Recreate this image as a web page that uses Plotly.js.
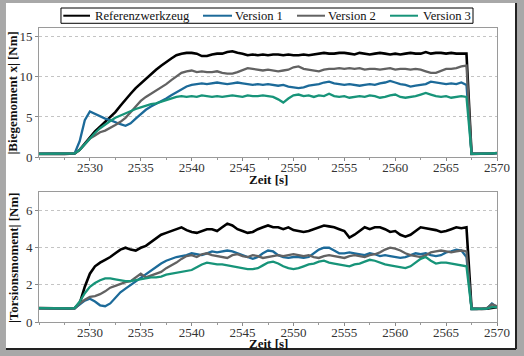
<!DOCTYPE html>
<html>
<head>
<meta charset="utf-8">
<script src="https://cdn.plot.ly/plotly-3.0.1.min.js"></script>
<style>
html,body{margin:0;padding:0;background:#a8a8a8;}
#chart{width:524px;height:356px;}
</style>
</head>
<body>
<div id="chart"></div>
<script>
// Time axis [s]
const time = [2525,2525.5,2526,2526.5,2527,2527.5,2528,2528.5,2529,2529.5,
  2530,2530.5,2531,2531.5,2532,2532.5,2533,2533.5,2534,2534.5,
  2535,2535.5,2536,2536.5,2537,2537.5,2538,2538.5,2539,2539.5,
  2540,2540.5,2541,2541.5,2542,2542.5,2543,2543.5,2544,2544.5,
  2545,2545.5,2546,2546.5,2547,2547.5,2548,2548.5,2549,2549.5,
  2550,2550.5,2551,2551.5,2552,2552.5,2553,2553.5,2554,2554.5,
  2555,2555.5,2556,2556.5,2557,2557.5,2558,2558.5,2559,2559.5,
  2560,2560.5,2561,2561.5,2562,2562.5,2563,2563.5,2564,2564.5,
  2565,2565.5,2566,2566.5,2567,2567.5,2568,2568.5,2569,2569.5,
  2570];

const seriesNames = ['Referenzwerkzeug','Version 1','Version 2','Version 3'];
const xTitle = 'Zeit [s]';
const bendTitle = '|Biegemoment x| [Nm]';
const torTitle = '|Torsionsmoment| [Nm]';

// |Biegemoment x| [Nm]
const bendRef = [0.4,0.42,0.4,0.41,0.4,0.4,0.42,0.45,0.9,1.7,
  2.5,3.2,3.8,4.4,4.9,5.6,6.4,7.2,7.9,8.6,
  9.2,9.7,10.3,10.9,11.4,11.9,12.3,12.7,12.9,13.0,
  13.0,12.9,12.6,12.6,12.8,12.9,12.9,13.1,13.2,13.0,
  12.9,12.7,12.8,12.7,12.8,12.7,12.8,12.8,12.7,12.8,
  12.7,12.7,12.8,12.7,12.8,12.9,13.0,12.9,12.9,13.0,
  13.0,12.9,12.8,13.0,12.9,12.8,12.9,13.0,12.9,12.8,
  12.9,12.8,12.9,13.0,12.9,12.9,13.1,12.9,13.0,13.0,
  12.9,13.0,12.9,12.9,12.9,0.4,0.4,0.42,0.4,0.45,
  0.5];
const bendV1 = [0.4,0.4,0.41,0.4,0.4,0.41,0.4,0.45,2.0,4.6,
  5.7,5.4,5.0,4.8,4.6,4.3,4.1,3.9,4.2,4.8,
  5.4,5.9,6.3,6.6,6.9,7.3,7.7,8.1,8.5,8.8,
  9.0,9.1,9.2,9.1,9.2,9.3,9.2,9.1,9.2,9.3,
  9.2,9.1,9.0,9.1,9.0,9.1,9.0,8.9,9.0,8.8,
  8.7,8.6,8.7,8.9,9.0,9.1,9.3,9.4,9.2,9.1,
  9.0,9.1,9.0,8.9,9.0,9.1,9.0,9.2,9.3,9.5,
  9.3,9.1,9.0,8.8,8.9,9.0,9.1,9.4,9.3,9.2,
  9.1,9.2,9.1,9.3,9.0,0.4,0.4,0.4,0.42,0.45,
  0.5];
const bendV2 = [0.4,0.41,0.4,0.4,0.42,0.4,0.41,0.45,0.9,1.6,
  2.3,2.7,3.1,3.3,3.6,4.0,4.4,4.9,5.6,6.3,
  7.0,7.5,7.9,8.3,8.6,9.1,9.6,10.1,10.5,10.7,
  10.8,10.6,10.7,10.6,10.6,10.7,10.5,10.4,10.4,10.6,
  10.9,11.1,11.0,10.9,10.8,10.9,10.8,10.7,10.8,10.9,
  11.2,11.3,11.0,10.9,10.8,10.7,10.9,11.0,11.0,11.1,
  11.0,11.1,11.0,11.1,10.9,11.0,11.0,10.9,11.0,11.1,
  10.9,11.0,11.0,10.9,11.0,10.9,10.7,10.5,10.5,10.8,
  11.0,11.0,11.1,11.3,11.4,0.4,0.41,0.4,0.42,0.45,
  0.5];
const bendV3 = [0.4,0.4,0.41,0.4,0.4,0.4,0.41,0.45,0.9,1.6,
  2.4,3.0,3.6,4.1,4.5,4.9,5.2,5.5,5.8,6.0,
  6.2,6.4,6.6,6.7,6.9,7.1,7.3,7.5,7.6,7.5,
  7.6,7.5,7.7,7.6,7.5,7.6,7.5,7.6,7.7,7.6,
  7.5,7.7,7.6,7.6,7.7,7.6,7.5,7.2,6.8,7.3,
  7.7,7.8,7.6,7.7,7.5,7.7,7.6,7.9,7.6,7.5,
  7.6,7.4,7.5,7.6,7.5,7.7,7.6,7.4,7.5,7.7,
  7.8,7.5,7.4,7.5,7.6,7.8,8.0,7.8,7.6,7.5,
  7.6,7.4,7.5,7.6,7.5,0.4,0.4,0.41,0.4,0.45,
  0.5];

// |Torsionsmoment| [Nm]
const torRef = [0.75,0.74,0.73,0.72,0.72,0.72,0.73,0.74,1.0,1.9,
  2.6,3.0,3.2,3.35,3.5,3.7,3.9,4.0,3.9,3.85,
  4.0,4.1,4.3,4.5,4.7,4.8,4.9,5.0,5.1,4.95,
  4.85,4.8,4.9,5.0,5.0,4.9,5.1,5.3,5.2,5.0,
  4.9,4.8,4.85,5.0,5.1,5.2,5.1,5.1,5.0,5.1,
  4.95,4.9,4.85,4.9,5.0,5.1,5.2,5.15,5.1,5.0,
  4.9,4.55,4.7,4.9,5.1,5.0,5.1,5.1,5.0,4.85,
  4.9,4.7,4.6,4.7,4.9,5.1,5.05,5.0,4.95,4.85,
  4.9,5.0,5.1,5.05,5.1,0.72,0.7,0.7,0.72,0.75,
  0.8];
const torV1 = [0.75,0.74,0.73,0.72,0.72,0.72,0.73,0.74,0.95,1.15,
  1.25,1.1,0.9,0.85,1.0,1.3,1.6,1.8,2.0,2.2,
  2.4,2.6,2.8,3.0,3.15,3.3,3.4,3.5,3.55,3.6,
  3.7,3.65,3.6,3.7,3.8,3.75,3.8,3.85,3.8,3.7,
  3.6,3.5,3.4,3.5,3.7,3.85,3.8,3.6,3.5,3.45,
  3.5,3.5,3.45,3.5,3.7,3.9,4.0,4.0,3.85,3.7,
  3.7,3.75,3.7,3.65,3.6,3.7,3.65,3.55,3.6,3.55,
  3.5,3.45,3.5,3.6,3.7,3.65,3.7,3.6,3.55,3.6,
  3.75,3.8,3.9,3.85,3.5,0.7,0.7,0.7,0.72,1.0,
  0.8];
const torV2 = [0.75,0.74,0.73,0.72,0.72,0.72,0.73,0.74,1.0,1.2,
  1.35,1.4,1.5,1.65,1.85,1.95,2.05,2.15,2.2,2.4,
  2.6,2.4,2.5,2.6,2.7,2.9,3.05,3.2,3.4,3.55,
  3.6,3.5,3.65,3.7,3.6,3.55,3.5,3.45,3.6,3.65,
  3.55,3.5,3.6,3.55,3.45,3.5,3.55,3.6,3.55,3.6,
  3.65,3.6,3.55,3.6,3.5,3.45,3.55,3.6,3.55,3.5,
  3.45,3.55,3.6,3.55,3.5,3.6,3.65,3.75,3.9,4.0,
  3.95,3.85,3.7,3.6,3.55,3.5,3.6,3.75,3.8,3.85,
  3.8,3.75,3.8,3.85,3.8,0.7,0.7,0.72,0.75,0.95,
  0.85];
const torV3 = [0.75,0.74,0.73,0.72,0.72,0.72,0.73,0.75,1.1,1.55,
  1.9,2.1,2.25,2.35,2.35,2.3,2.25,2.2,2.2,2.25,
  2.3,2.35,2.4,2.4,2.45,2.55,2.6,2.65,2.7,2.75,
  2.8,2.95,3.1,3.2,3.15,3.1,3.1,3.05,3.0,2.95,
  2.9,2.85,2.85,2.9,3.05,3.2,3.25,3.15,3.0,2.9,
  2.85,2.9,3.0,3.1,3.15,3.25,3.3,3.2,3.15,3.1,
  3.05,3.0,3.1,3.15,3.25,3.35,3.3,3.2,3.1,3.05,
  3.0,2.95,2.9,3.0,3.2,3.4,3.5,3.3,3.15,3.2,
  3.2,3.15,3.1,3.05,3.0,0.7,0.7,0.7,0.72,0.8,
  0.8];

const xTickVals = [2530,2535,2540,2545,2550,2555,2560,2565,2570];
const bendTickVals = [0,5,10,15];
const torTickVals = [0,2,4,6];

const colors = ['#000000','#1c6a99','#626262','#179479'];
const widths = [2.6, 2.3, 2.3, 2.3];
const bendData = [bendRef, bendV1, bendV2, bendV3];
const torData = [torRef, torV1, torV2, torV3];

const traces = [];
seriesNames.forEach((name, i) => {
  traces.push({x: time, y: bendData[i], type: 'scatter', mode: 'lines', name: name,
    legendgroup: name, showlegend: false, line: {color: colors[i], width: widths[i]}, xaxis: 'x', yaxis: 'y'});
});
seriesNames.forEach((name, i) => {
  traces.push({x: time, y: torData[i], type: 'scatter', mode: 'lines', name: name,
    legendgroup: name, showlegend: false, line: {color: colors[i], width: widths[i]}, xaxis: 'x2', yaxis: 'y2'});
});

const fontFam = 'Liberation Serif, Times New Roman, serif';
function xAxis(anchor) {
  return {
    anchor: anchor, domain: [0, 1], range: [2525, 2570],
    tickvals: xTickVals, ticks: 'outside', ticklen: 3, tickcolor: '#888',
    ticklabelstandoff: -5,
    showline: true, linecolor: '#9a9a9a', linewidth: 1, mirror: true,
    showgrid: false, zeroline: false,
    minor: {dtick: 2.5, tick0: 2525, ticks: 'outside', ticklen: 2, tickcolor: '#999', showgrid: false},
    tickfont: {family: fontFam, size: 13, color: '#333'}
  };
}
function yAxis(anchor, domain, range, tickvals) {
  return {
    anchor: anchor, domain: domain, range: range, tickvals: tickvals,
    ticks: 'outside', ticklen: 3, tickcolor: '#888',
    showline: true, linecolor: '#9a9a9a', linewidth: 1, mirror: true,
    showgrid: true, gridcolor: '#c4c4c4', griddash: 'dot', gridwidth: 1,
    zeroline: false,
    tickfont: {family: fontFam, size: 13, color: '#333'}
  };
}

// Hand-built legend placement (paper coordinates)
const legendBox = {x0: 0.048, x1: 0.9476, y0: 1.016, y1: 1.068};
const legendLineY = 1.0418;
const legendLineX = [[0.0531, 0.1114], [0.3581, 0.4214], [0.5633, 0.6245], [0.7664, 0.8275]];
const legendTextX = [0.1170, 0.4226, 0.6257, 0.8331];

const shapes = [
  {type: 'rect', xref: 'paper', yref: 'paper', x0: -0.0721, x1: 1.0415, y0: -0.0918, y1: 1.085,
    fillcolor: '#ffffff', line: {width: 0}, layer: 'below'},
  {type: 'line', xref: 'paper', yref: 'paper', x0: 1.0415, x1: 1.0415, y0: -0.0918, y1: 1.085,
    line: {color: '#222', width: 2}, layer: 'below'},
  {type: 'line', xref: 'paper', yref: 'paper', x0: -0.0721, x1: 1.0415, y0: -0.0918, y1: -0.0918,
    line: {color: '#222', width: 2}, layer: 'below'},
  {type: 'rect', xref: 'paper', yref: 'paper', x0: legendBox.x0, x1: legendBox.x1, y0: legendBox.y0, y1: legendBox.y1,
    fillcolor: '#ffffff', line: {color: '#000', width: 1}}
];
const annotations = [];
seriesNames.forEach((name, i) => {
  shapes.push({type: 'line', xref: 'paper', yref: 'paper', x0: legendLineX[i][0], x1: legendLineX[i][1],
    y0: legendLineY, y1: legendLineY, line: {color: colors[i], width: 2}});
  annotations.push({xref: 'paper', yref: 'paper', x: legendTextX[i], y: legendLineY, xanchor: 'left', yanchor: 'middle',
    text: name, showarrow: false, font: {family: fontFam, size: 12.6, color: '#111'}});
});
// Axis titles
const titleFont = {family: fontFam, size: 13, color: '#111'};
annotations.push({xref: 'paper', yref: 'paper', x: -0.0568, y: 0.7805, xanchor: 'center', yanchor: 'middle',
  textangle: -90, text: '<b>' + bendTitle + '</b>', showarrow: false, font: titleFont});
annotations.push({xref: 'paper', yref: 'paper', x: -0.0568, y: 0.221, xanchor: 'center', yanchor: 'middle',
  textangle: -90, text: '<b>' + torTitle + '</b>', showarrow: false, font: titleFont});
annotations.push({xref: 'paper', yref: 'paper', x: 0.5, y: 0.483, xanchor: 'center', yanchor: 'middle',
  text: '<b>' + xTitle + '</b>', showarrow: false, font: titleFont});
annotations.push({xref: 'paper', yref: 'paper', x: 0.5, y: -0.0748, xanchor: 'center', yanchor: 'middle',
  text: '<b>' + xTitle + '</b>', showarrow: false, font: titleFont});

const layout = {
  width: 524, height: 356,
  paper_bgcolor: '#a8a8a8',
  plot_bgcolor: '#ffffff',
  margin: {l: 39, r: 27, t: 28, b: 34},
  font: {family: fontFam, size: 13, color: '#222'},
  showlegend: false,
  xaxis: xAxis('y'),
  yaxis: yAxis('x', [0.561, 1], [0, 16.1], bendTickVals),
  xaxis2: xAxis('y2'),
  yaxis2: yAxis('x2', [0, 0.442], [0, 7], torTickVals),
  shapes: shapes,
  annotations: annotations
};

Plotly.newPlot('chart', traces, layout, {displayModeBar: false, staticPlot: true});
</script>
</body>
</html>
